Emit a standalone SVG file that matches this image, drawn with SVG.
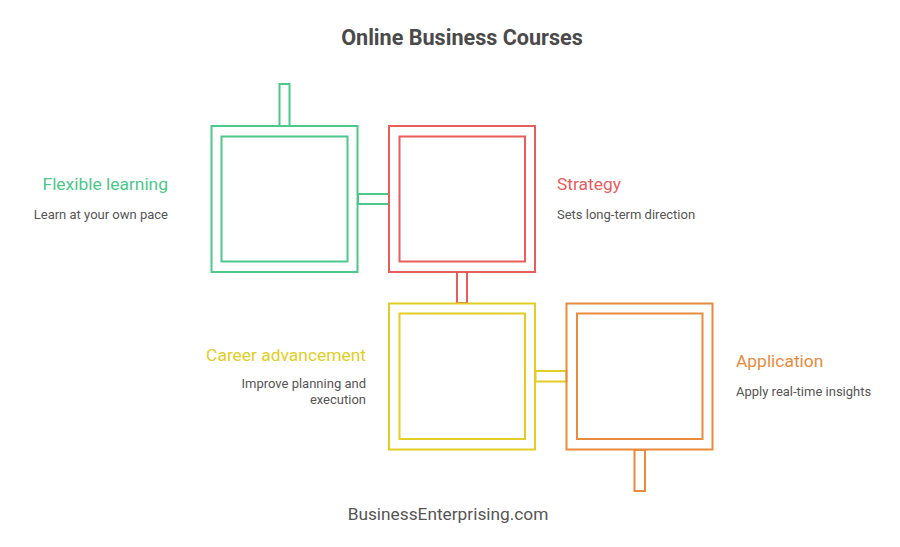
<svg xmlns="http://www.w3.org/2000/svg" width="900" height="547" viewBox="0 0 900 547">
<style>
.box{fill:none;stroke-width:2}
.g{stroke:#4cc88a}.r{stroke:#e85c5c}.y{stroke:#e2cd27}.o{stroke:#e88b3c}
.t{font-family:Roboto,"Liberation Sans",sans-serif}
.h{font-size:17.4px}
.d{font-size:13px;fill:#555}
</style>
<rect width="900" height="547" fill="#fff"/>
<text class="t" x="462" y="45" text-anchor="middle" font-size="21.6" font-weight="bold" fill="#4a4a4a">Online Business Courses</text>
<g id="connectors">
<rect class="box g" x="279.5" y="84" width="10" height="42"/>
<rect class="box g" x="358" y="194" width="31" height="10"/>
<rect class="box r" x="457" y="272" width="10" height="31"/>
<rect class="box y" x="535.5" y="371" width="31" height="10.5"/>
<rect class="box o" x="634.5" y="450" width="10.5" height="41"/>
</g>
<g id="flexible">
<rect class="box g" x="211.5" y="126" width="146" height="146"/>
<rect class="box g" x="221.5" y="136.5" width="126" height="125"/>
<text class="t h" x="168" y="190" text-anchor="end" fill="#4cc88a">Flexible learning</text>
<text class="t d" x="168" y="219" text-anchor="end">Learn at your own pace</text>
</g>
<g id="strategy">
<rect class="box r" x="389" y="126" width="146" height="146"/>
<rect class="box r" x="399.5" y="136.5" width="125.5" height="125"/>
<text class="t h" x="557" y="190" fill="#e85c5c">Strategy</text>
<text class="t d" x="557" y="219">Sets long-term direction</text>
</g>
<g id="career">
<rect class="box y" x="389" y="303.5" width="146" height="146"/>
<rect class="box y" x="399.5" y="313.5" width="125.5" height="125.5"/>
<text class="t h" x="366" y="361" text-anchor="end" fill="#e2cd27">Career advancement</text>
<text class="t d" x="366" y="388" text-anchor="end">Improve planning and</text>
<text class="t d" x="366" y="404" text-anchor="end">execution</text>
</g>
<g id="application">
<rect class="box o" x="566.5" y="303.5" width="146" height="146"/>
<rect class="box o" x="577" y="313.5" width="125.5" height="125.5"/>
<text class="t h" x="736" y="367" fill="#e88b3c">Application</text>
<text class="t d" x="736" y="396">Apply real-time insights</text>
</g>
<text class="t" x="448" y="520" text-anchor="middle" font-size="17.3" fill="#555">BusinessEnterprising.com</text>
</svg>
